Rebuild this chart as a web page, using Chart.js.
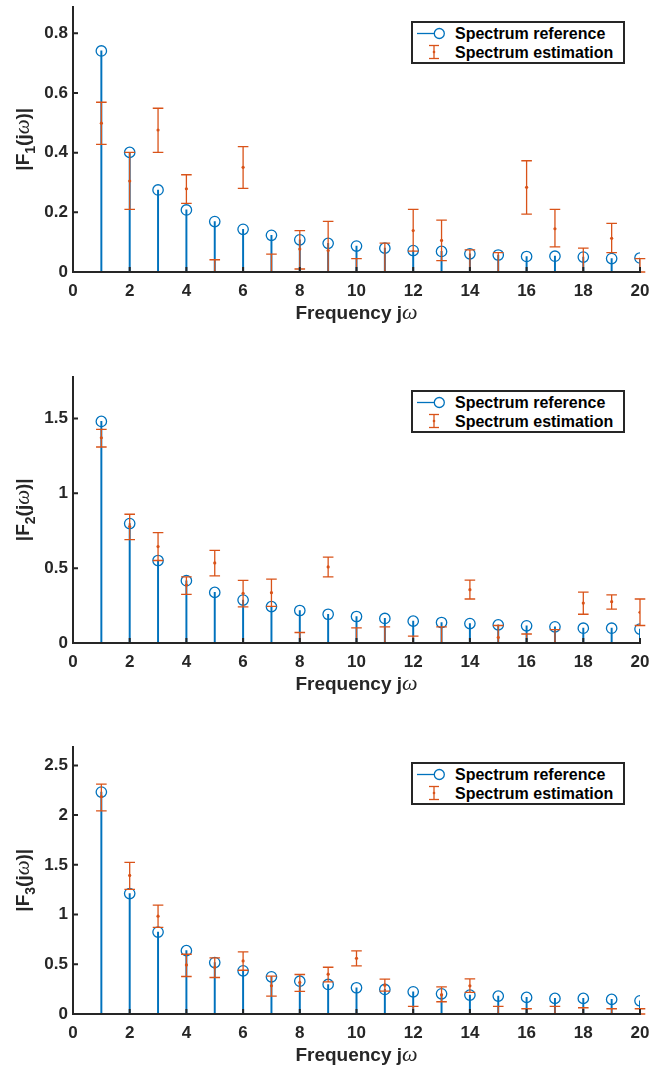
<!DOCTYPE html>
<html><head><meta charset="utf-8">
<script src="https://cdn.jsdelivr.net/npm/chart.js@4.4.0/dist/chart.umd.min.js"></script>
<style>
body{margin:0;background:#fff;width:662px;height:1069px;position:relative;overflow:hidden;font-family:"Liberation Sans",Arial,sans-serif;}
.pane{position:absolute;left:0;width:662px;}
.legend{position:absolute;left:411px;width:210px;height:39px;border:2px solid #262626;background:#fff;}
.row{position:absolute;left:0;height:19px;width:100%;font-weight:bold;font-size:16px;color:#000;line-height:19px;white-space:nowrap;}
.row svg{position:absolute;left:0;top:0}
.row span{position:absolute;left:42px;top:0}
</style></head><body>
<div class="pane" style="top:0px;height:332px"><canvas id="c1"></canvas></div>
<div class="pane" style="top:370px;height:333px"><canvas id="c2"></canvas></div>
<div class="pane" style="top:740px;height:334px"><canvas id="c3"></canvas></div>
<div id="legends"></div>
<script>
// ---------- data ----------
const freq = [1,2,3,4,5,6,7,8,9,10,11,12,13,14,15,16,17,18,19,20];
const xTicks = [0,2,4,6,8,10,12,14,16,18,20];

const ref1 = [0.741,0.401,0.275,0.208,0.169,0.143,0.123,0.108,0.096,0.087,0.080,0.072,0.069,0.061,0.057,0.052,0.053,0.050,0.045,0.047];
const est1 = [0.499,0.305,0.476,0.279,0.0,0.351,0.0,0.077,0.072,0.0,0.0,0.139,0.106,0.0,0.0,0.284,0.145,0.0,0.113,0.0];
const lo1  = [0.428,0.210,0.401,0.230,0.0,0.280,0.0,0.010,0.0,0.0,0.0,0.070,0.038,0.0,0.0,0.194,0.084,0.0,0.065,0.0];
const hi1  = [0.569,0.401,0.549,0.326,0.041,0.420,0.060,0.139,0.170,0.045,0.097,0.210,0.174,0.074,0.065,0.373,0.210,0.080,0.163,0.045];
const yTicks1 = [0,0.2,0.4,0.6,0.8];

const ref2 = [1.480,0.798,0.551,0.416,0.338,0.287,0.243,0.217,0.192,0.177,0.164,0.146,0.137,0.130,0.121,0.115,0.108,0.099,0.099,0.093];
const est2 = [1.371,0.778,0.644,0.387,0.535,0.332,0.336,0.0,0.508,0.0,0.0,0.0,0.0,0.356,0.037,0.0,0.0,0.267,0.276,0.205];
const lo2  = [1.309,0.690,0.551,0.325,0.449,0.241,0.245,0.0,0.442,0.0,0.0,0.0,0.0,0.294,0.0,0.0,0.0,0.192,0.226,0.117];
const hi2  = [1.427,0.860,0.737,0.442,0.619,0.418,0.427,0.070,0.573,0.101,0.108,0.046,0.108,0.420,0.117,0.060,0.090,0.340,0.322,0.294];
const yTicks2 = [0,0.5,1,1.5];

const ref3 = [2.232,1.211,0.824,0.637,0.517,0.434,0.374,0.330,0.297,0.264,0.247,0.223,0.203,0.190,0.180,0.167,0.157,0.157,0.147,0.133];
const est3 = [2.185,1.394,0.984,0.494,0.470,0.534,0.283,0.317,0.400,0.560,0.290,0.0,0.193,0.283,0.0,0.0,0.0,0.0,0.0,0.0];
const lo3  = [2.042,1.254,0.871,0.377,0.367,0.440,0.180,0.227,0.323,0.484,0.230,0.0,0.123,0.217,0.0,0.0,0.0,0.0,0.0,0.0];
const hi3  = [2.312,1.525,1.094,0.601,0.564,0.624,0.380,0.397,0.470,0.634,0.350,0.077,0.273,0.354,0.077,0.053,0.077,0.063,0.053,0.053];
const yTicks3 = [0,0.5,1,1.5,2,2.5];

const seriesNames = ['Spectrum reference','Spectrum estimation'];
const xTitle = 'Frequency j';
// ---------- styles ----------
const BLUE = '#0072BD', ORANGE = '#D95319', AX = '#262626';
const FONT = '"Liberation Sans", Arial, sans-serif';

const decorPlugin = {
  id: 'decor',
  afterDatasetsDraw(chart, args, o) {
    const {ctx, scales: {x, y}} = chart;
    ctx.save();
    ctx.strokeStyle = ORANGE; ctx.lineWidth = 1.3;
    for (let i = 0; i < o.lo.length; i++) {
      const px = x.getPixelForValue(freq[i]);
      const p1 = y.getPixelForValue(o.lo[i]), p2 = y.getPixelForValue(o.hi[i]);
      ctx.beginPath();
      ctx.moveTo(px, p1); ctx.lineTo(px, p2);
      ctx.moveTo(px - 5.3, p1); ctx.lineTo(px + 5.3, p1);
      ctx.moveTo(px - 5.3, p2); ctx.lineTo(px + 5.3, p2);
      ctx.stroke();
    }
    ctx.restore();
  },
  afterDraw(chart, args, o) {
    const {ctx, scales: {x, y}, chartArea: ca} = chart;
    ctx.save();
    ctx.strokeStyle = AX; ctx.lineWidth = 2;
    const y0 = y.getPixelForValue(0), x0 = x.getPixelForValue(0);
    ctx.beginPath();
    xTicks.forEach(v => { if (v === 0) return; const px = x.getPixelForValue(v); ctx.moveTo(px, y0); ctx.lineTo(px, y0 - 5); });
    o.yt.forEach(v => { if (v === 0) return; const py = y.getPixelForValue(v); ctx.moveTo(x0, py); ctx.lineTo(x0 + 5, py); });
    ctx.stroke();
    // y title with subscript
    ctx.fillStyle = AX;
    ctx.textBaseline = 'alphabetic';
    const parts = [
      {t: '|F', f: 'bold 19px ' + FONT, dy: 0},
      {t: o.sub, f: 'bold 14px ' + FONT, dy: 6},
      {t: '(j', f: 'bold 19px ' + FONT, dy: 0},
      {t: 'ω', f: 'italic 21px "Liberation Serif", serif', dy: 0},
      {t: ')|', f: 'bold 19px ' + FONT, dy: 0}
    ];
    let tot = 0;
    parts.forEach(p => { ctx.font = p.f; p.w = ctx.measureText(p.t).width; tot += p.w; });
    ctx.translate(28.5, (ca.top + ca.bottom) / 2);
    ctx.rotate(-Math.PI / 2);
    let cx = -tot / 2;
    parts.forEach(p => { ctx.font = p.f; ctx.fillText(p.t, cx, p.dy); cx += p.w; });
    ctx.setTransform(1, 0, 0, 1, 0, 0);
    // x title
    const xp = [
      {t: xTitle, f: 'bold 19px ' + FONT},
      {t: 'ω', f: 'italic 22px "Liberation Serif", serif'}
    ];
    tot = 0;
    xp.forEach(p => { ctx.font = p.f; p.w = ctx.measureText(p.t).width; tot += p.w; });
    let sx = (ca.left + ca.right) / 2 - tot / 2;
    const by = ca.bottom + 46.5;
    xp.forEach(p => { ctx.font = p.f; ctx.fillText(p.t, sx, by); sx += p.w; });
    ctx.restore();
  }
};

function makeChart(id, ref, est, lo, hi, yMax, yt, sub) {
  const refPts = freq.map((f, i) => ({x: f, y: ref[i]}));
  const estPts = freq.map((f, i) => ({x: f, y: est[i]}));
  return new Chart(document.getElementById(id), {
    type: 'scatter',
    data: {
      datasets: [
        {type: 'bar', label: seriesNames[0], data: refPts, backgroundColor: BLUE, barThickness: 1.3, order: 3},
        {type: 'scatter', label: seriesNames[0], data: refPts, pointStyle: 'circle', pointRadius: 5.2, borderColor: BLUE, borderWidth: 1.3, backgroundColor: 'rgba(0,0,0,0)', order: 2},
        {type: 'scatter', label: seriesNames[1], data: estPts, pointRadius: 1.6, borderWidth: 0, backgroundColor: ORANGE, order: 1}
      ]
    },
    options: {
      responsive: true, maintainAspectRatio: false, animation: false,
      layout: {padding: {top: 5, right: 22, left: 0, bottom: 0}},
      plugins: {legend: {display: false}, tooltip: {enabled: false}, decor: {lo: lo, hi: hi, yt: yt, sub: sub}},
      scales: {
        x: {
          type: 'linear', min: 0, max: 20, offset: false,
          afterBuildTicks: s => { s.ticks = xTicks.map(v => ({value: v})); },
          afterFit: s => { s.height = 60; s.paddingLeft = 0; s.paddingRight = 0; },
          grid: {display: true, drawOnChartArea: false, drawTicks: false},
          border: {display: true, color: AX, width: 2, z: 1},
          ticks: {padding: 9, color: AX, font: {family: FONT, size: 17, weight: 'bold'}, maxRotation: 0, autoSkip: false, callback: v => String(v)}
        },
        y: {
          type: 'linear', min: 0, max: yMax,
          afterBuildTicks: s => { s.ticks = yt.map(v => ({value: v})); },
          afterFit: s => { s.width = 73; s.paddingTop = 0; s.paddingBottom = 0; },
          grid: {display: true, drawOnChartArea: false, drawTicks: false},
          border: {display: true, color: AX, width: 2, z: 1},
          ticks: {padding: 5, color: AX, font: {family: FONT, size: 17, weight: 'bold'}, autoSkip: false, callback: v => String(v)}
        }
      }
    },
    plugins: [decorPlugin]
  });
}

makeChart('c1', ref1, est1, lo1, hi1, 0.89, yTicks1, '1');
makeChart('c2', ref2, est2, lo2, hi2, 1.78, yTicks2, '2');
makeChart('c3', ref3, est3, lo3, hi3, 2.69, yTicks3, '3');

// ---------- legends (HTML) ----------
const legTops = [21, 390, 762];
const lg = document.getElementById('legends');
legTops.forEach(t => {
  const d = document.createElement('div');
  d.className = 'legend'; d.style.top = t + 'px';
  d.innerHTML =
    '<div class="row" style="top:1px"><svg width="40" height="19"><line x1="4" y1="9.5" x2="21.3" y2="9.5" stroke="' + BLUE + '" stroke-width="1.3"/><circle cx="26.3" cy="9.5" r="5" fill="none" stroke="' + BLUE + '" stroke-width="1.3"/></svg><span>' + seriesNames[0] + '</span></div>' +
    '<div class="row" style="top:20px"><svg width="40" height="19"><g stroke="' + ORANGE + '" stroke-width="1.3"><line x1="21" y1="2.5" x2="21" y2="15.5"/><line x1="16" y1="2.5" x2="26" y2="2.5"/><line x1="16" y1="15.5" x2="26" y2="15.5"/></g><circle cx="21" cy="9" r="1.3" fill="' + ORANGE + '"/></svg><span>' + seriesNames[1] + '</span></div>';
  lg.appendChild(d);
});
</script>
</body></html>
